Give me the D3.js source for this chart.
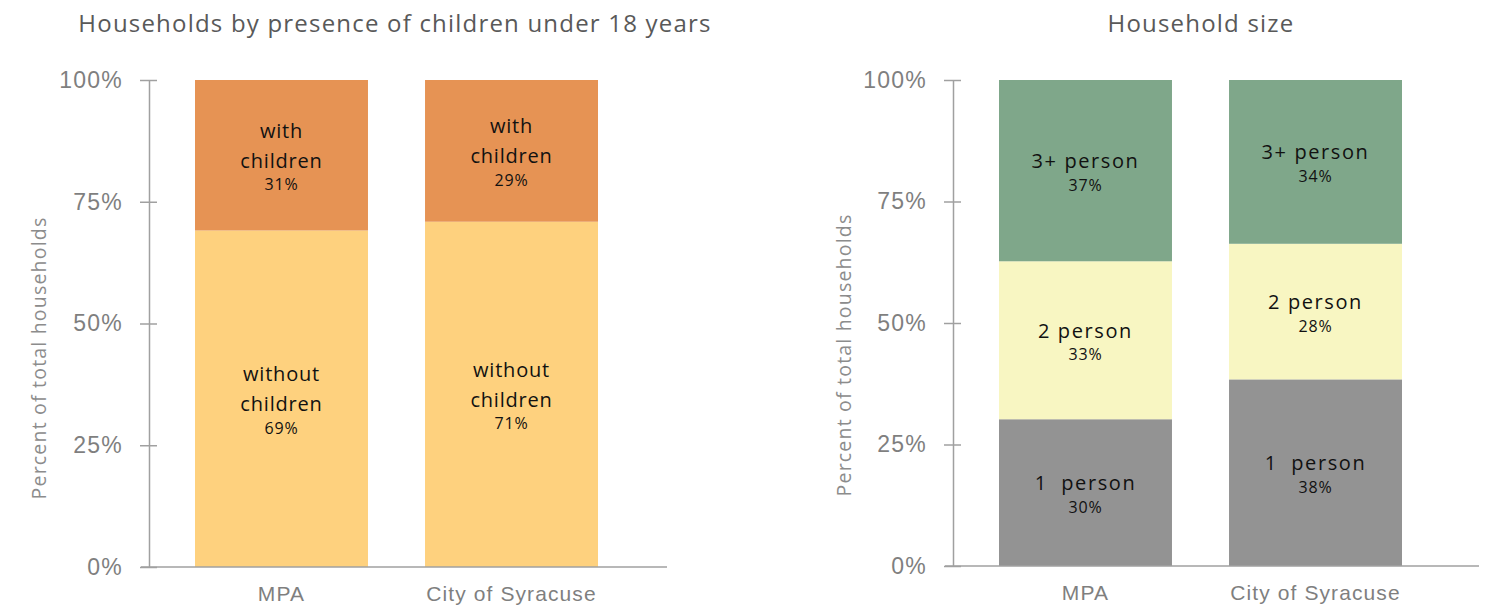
<!DOCTYPE html>
<html>
<head>
<meta charset="utf-8">
<script src="https://cdn.jsdelivr.net/npm/d3@7"></script>
<style>
  body { margin: 0; background: #fff; }
  svg { font-family: "Open Sans", Lato, sans-serif; }
</style>
</head>
<body>
<svg id="chart" width="1489" height="613"></svg>
<script>
// data
var regions = ["MPA", "City of Syracuse"];
var yTicks = [0, 25, 50, 75, 100];

var childKeys = ["without", "with"];
var childNames = {without: ["without", "children"], with: ["with", "children"]};
var childWithout = [69.1, 70.9];
var childWith = [30.9, 29.1];

var sizeKeys = ["one", "two", "three"];
var sizeNames = {one: ["1  person"], two: ["2 person"], three: ["3+ person"]};
var sizeOne = [30.2, 38.4];
var sizeTwo = [32.5, 27.9];
var sizeThree = [37.3, 33.7];

var childColors = {without: "#fed17e", with: "#e69354"};
var sizeColors = {one: "#939393", two: "#f8f6c2", three: "#7fa78a"};

var childRows = regions.map((r, i) => ({region: r, without: childWithout[i], with: childWith[i]}));
var sizeRows = regions.map((r, i) => ({region: r, one: sizeOne[i], two: sizeTwo[i], three: sizeThree[i]}));

var svg = d3.select("#chart");

function panel(opts) {
  var g = svg.append("g");
  var ax = opts.left, bottom = opts.bottom, top = 80;

  var x = d3.scaleBand()
    .domain(regions)
    .range([ax, ax + 495])
    .paddingInner(0.248)
    .paddingOuter(0.2);

  var y = d3.scaleLinear().domain([0, 100]).range([bottom, top]);

  var series = d3.stack().keys(opts.keys)(opts.rows);

  // bars
  g.append("g")
    .selectAll("g")
    .data(series)
    .join("g")
    .attr("fill", d => opts.colors[d.key])
    .selectAll("rect")
    .data(d => d)
    .join("rect")
    .attr("x", d => x(d.data.region))
    .attr("y", d => y(d[1]))
    .attr("width", x.bandwidth())
    .attr("height", d => y(d[0]) - y(d[1]));

  // segment labels
  series.forEach(function(s) {
    s.forEach(function(d) {
      var lines = opts.names[s.key];
      var mid = (y(d[0]) + y(d[1])) / 2;
      var total = (lines.length - 1) * 30 + 24;
      var start = mid - total / 2 + 2;
      var cx = x(d.data.region) + x.bandwidth() / 2;
      var t = g.append("g").attr("text-anchor", "middle").attr("fill", "#111");
      lines.forEach(function(line, k) {
        t.append("text")
          .attr("x", cx)
          .attr("y", start + k * 30)
          .attr("dominant-baseline", "central")
          .attr("font-size", 20)
          .attr("letter-spacing", opts.labelSpacing)
          .style("white-space", "pre")
          .text(line);
      });
      t.append("text")
        .attr("x", cx)
        .attr("y", start + (lines.length - 1) * 30 + 24)
        .attr("dominant-baseline", "central")
        .attr("font-size", 16)
        .attr("letter-spacing", 0.8)
        .text(Math.round(d.data[s.key]) + "%");
    });
  });

  // y axis
  g.append("g")
    .attr("transform", `translate(${ax},0)`)
    .call(d3.axisLeft(y)
      .tickValues(yTicks)
      .tickFormat(d => d + "%")
      .tickSizeInner(9)
      .tickSizeOuter(0)
      .tickPadding(17))
    .call(g => g.select(".domain").attr("stroke", "#a0a0a0").attr("stroke-width", 1.5))
    .call(g => g.selectAll(".tick line").attr("x2", -9).attr("x1", 8).attr("stroke", "#a0a0a0").attr("stroke-width", 1.5))
    .call(g => g.selectAll(".tick text").attr("font-size", 23).attr("letter-spacing", 1.2)
      .attr("fill", "#7f7f7f").attr("font-family", null));

  // x axis
  g.append("line")
    .attr("x1", ax - 8).attr("x2", opts.axisEnd)
    .attr("y1", bottom).attr("y2", bottom)
    .attr("stroke", "#a0a0a0").attr("stroke-width", 1.5);

  g.append("g")
    .attr("transform", `translate(0,${bottom})`)
    .call(d3.axisBottom(x).tickSize(0).tickPadding(19))
    .call(g => g.select(".domain").remove())
    .call(g => g.selectAll(".tick text").attr("font-size", 21).attr("letter-spacing", 1.1)
      .attr("fill", "#7f7f7f").attr("font-family", null));

  // axis title
  g.append("text")
    .attr("transform", `translate(${opts.ytitleX},${opts.ytitleY}) rotate(-90)`)
    .attr("text-anchor", "middle")
    .attr("dominant-baseline", "central")
    .attr("font-size", 19.5)
    .attr("letter-spacing", 1.2)
    .attr("fill", "#8c8c8c")
    .text("Percent of total households");

  // chart title
  g.append("text")
    .attr("x", opts.titleX)
    .attr("y", 22)
    .attr("text-anchor", "middle")
    .attr("dominant-baseline", "central")
    .attr("font-size", 24)
    .attr("letter-spacing", 1.2)
    .attr("fill", "#595959")
    .text(opts.title);
}

panel({
  rows: childRows, keys: childKeys, names: childNames, colors: childColors,
  left: 149, bottom: 567, axisEnd: 667, labelSpacing: 0.8,
  ytitleX: 38, ytitleY: 358, titleX: 395,
  title: "Households by presence of children under 18 years"
});

panel({
  rows: sizeRows, keys: sizeKeys, names: sizeNames, colors: sizeColors,
  left: 953, bottom: 566, axisEnd: 1479, labelSpacing: 1.6,
  ytitleX: 843, ytitleY: 355, titleX: 1201,
  title: "Household size"
});
</script>
</body>
</html>
